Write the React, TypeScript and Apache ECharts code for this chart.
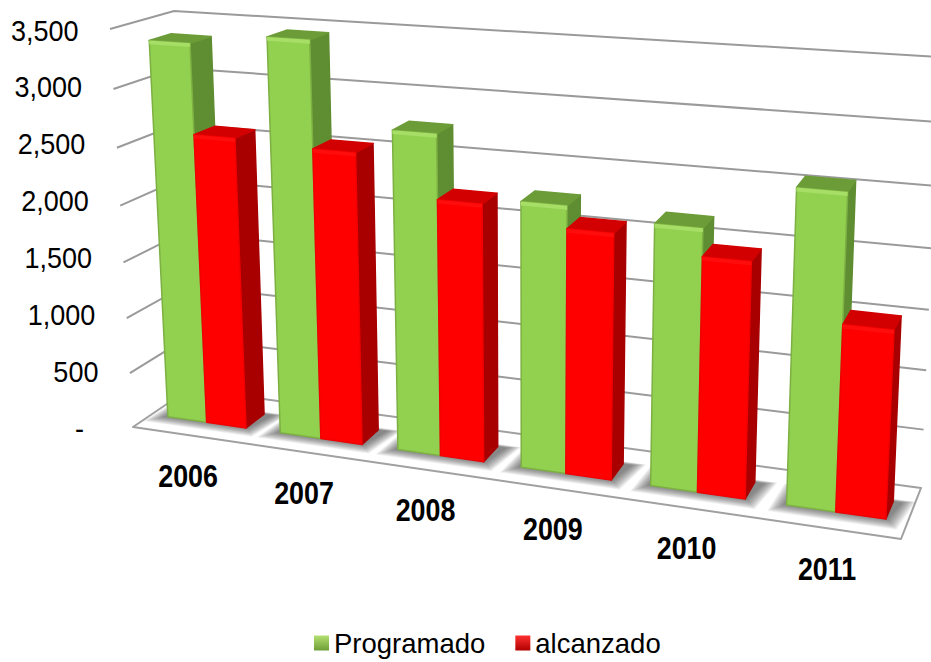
import React, { useEffect, useRef } from "react";
import * as echarts from "echarts";

const categories = ["2006", "2007", "2008", "2009", "2010", "2011"];
const programado = [3363, 3458, 2766, 2270, 2191, 2578];
const alcanzado = [2587, 2553, 2221, 2082, 1964, 1538];
const ticks = [0, 500, 1000, 1500, 2000, 2500, 3000, 3500];
const tickLabels = ["-", "500", "1,000", "1,500", "2,000", "2,500", "3,000", "3,500"];
const FONT = '"Liberation Sans", Arial, sans-serif';

type P = [number, number];
// Picture-plane corners of the 3D box: [s, v, w] -> pixel
const FL: P = [133, 427], FR: P = [901, 539], BL: P = [189, 389], BR: P = [921, 488];
const FTL: P = [110, 29], FTR: P = [922, 84], BTL: P = [174, 11], BTR: P = [940, 57];
const lerp = (a: P, b: P, t: number): P => [a[0] + (b[0] - a[0]) * t, a[1] + (b[1] - a[1]) * t];
const KV = 0.94;
const warpV = (v: number) => (KV * v) / (1 + (KV - 1) * v);
const project = (s: number, v: number, w: number): P => {
  const bottom = lerp(lerp(FL, FR, s), lerp(BL, BR, s), w);
  const top = lerp(lerp(FTL, FTR, s), lerp(BTL, BTR, s), w);
  return lerp(bottom, top, warpV(v));
};
const K = 0.866;
const warp = (u: number) => (K * u) / (1 + (K - 1) * u);
const W0 = 0.33, W1 = 0.68;
const HALF = 0.35;

const wallItem = (params: any, api: any) => {
  const sys = params.coordSys;
  const value = api.value(1);
  const y = api.coord([0, value])[1];
  const v = (sys.y + sys.height - y) / sys.height;
  const idx = params.dataIndex;
  const line = { stroke: "#9a9a9a", lineWidth: 2, fill: "none" };
  const children: any[] = [];
  if (value === 0) {
    children.push({
      type: "polygon",
      shape: { points: [project(0, 0, 0), project(1, 0, 0), project(1, 0, 1), project(0, 0, 1)] },
      style: { fill: "#ffffff", stroke: "#a0a0a0", lineWidth: 2, lineJoin: "round" },
    });
  } else {
    children.push({
      type: "polyline",
      shape: { points: [project(0, v, 0), project(0, v, 1), project(1, v, 1)] },
      style: line,
    });
  }
  const label = tickLabels[idx];
  const front = project(0, v, 0);
  children.push({
    type: "text",
    x: front[0] - (label === "-" ? 49 : 31.5),
    y: y,
    scaleX: 0.9,
    style: {
      text: label,
      x: 0,
      y: 0,
      align: "right",
      verticalAlign: "middle",
      fontFamily: FONT,
      fontSize: 30,
      fill: "#000000",
    },
  });
  return { type: "group", children };
};

const shadowItem = (params: any, api: any) => {
  const sys = params.coordSys;
  const band = api.size([1, 0])[0];
  const cx = api.coord([api.value(0), 0])[0];
  const s0 = warp((cx - band * HALF - sys.x) / sys.width);
  const s1 = warp((cx + band * HALF - sys.x) / sys.width);
  const children: any[] = [];
  for (let i = 14; i >= 0; i--) {
    const e = i * 0.0012;
    const d = i * 0.0035;
    const df = i * 0.012;
    children.push({
      type: "polygon",
      shape: {
        points: [
          project(s0 - e - 0.003, 0, W0 - df),
          project(s1 + e + 0.002, 0, W0 - df),
          project(s1 + e + 0.012, 0, W1 + d),
          project(s0 - e, 0, W1 + d),
        ],
      },
      style: { fill: "rgba(60,60,60,0.055)" },
    });
  }
  return { type: "group", children };
};

const barItem = (colors: any, side: number) => (params: any, api: any) => {
  const sys = params.coordSys;
  const band = api.size([1, 0])[0];
  const [cx, y] = api.coord([api.value(0), api.value(1)]);
  const v = (sys.y + sys.height - y) / sys.height;
  const a = side < 0 ? cx - band * HALF : cx;
  const b = side < 0 ? cx : cx + band * HALF;
  const s0 = warp((a - sys.x) / sys.width);
  const s1 = warp((b - sys.x) / sys.width);
  const face = (points: P[], fill: string, stroke = fill) => ({
    type: "polygon",
    shape: { points },
    style: { fill, stroke, lineWidth: 1.5, lineJoin: "round" },
  });
  const f00 = project(s0, 0, W0), f10 = project(s1, 0, W0);
  const f01 = project(s0, v, W0), f11 = project(s1, v, W0);
  const b10 = project(s1, 0, W1), b11 = project(s1, v, W1), b01 = project(s0, v, W1);
  const dv = 0.009;
  return {
    type: "group",
    children: [
      face([f10, b10, b11, f11], colors.side),
      face([f01, f11, b11, b01], colors.top),
      face([f00, f10, f11, f01], colors.front, colors.edge),
      {
        type: "polygon",
        shape: { points: [f01, f11, project(s1, v - dv, W0), project(s0, v - dv, W0)] },
        style: { fill: colors.light },
      },
    ],
  };
};

const green = { front: "#92D050", side: "#5F8D32", top: "#6C9C38", edge: "#7DB043", light: "#A6DE66" };
const red = { front: "#FF0000", side: "#A80000", top: "#D20000", edge: "#F00000", light: "#FF0C0C" };

export default function App() {
  const ref = useRef<HTMLDivElement>(null);
  useEffect(() => {
    const chart = echarts.init(ref.current!, undefined, { renderer: "svg" });
    const legendFill = (a: string, b: string) =>
      new echarts.graphic.LinearGradient(0, 0, 0, 1, [
        { offset: 0, color: a },
        { offset: 1, color: b },
      ]);
    chart.setOption({
      animation: false,
      backgroundColor: "#ffffff",
      grid: { left: 110, top: 30, width: 800, height: 398, containLabel: false },
      xAxis: { type: "category", data: categories, show: false },
      yAxis: { type: "value", min: 0, max: 3500, interval: 500, show: false },
      legend: {
        left: 314,
        top: 629,
        padding: 0,
        itemWidth: 15,
        itemHeight: 15,
        itemGap: 30,
        textStyle: { fontFamily: FONT, fontSize: 27.5, color: "#000000" },
        data: [
          { name: "Programado", icon: "rect", itemStyle: { color: legendFill("#B4E070", "#6E9E38") } },
          { name: "alcanzado", icon: "rect", itemStyle: { color: legendFill("#FF3030", "#B00000") } },
        ],
      },
      series: [
        {
          type: "custom",
          silent: true,
          renderItem: wallItem,
          data: ticks.map((t) => [0, t]),
          encode: { x: 0, y: 1 },
        },
        {
          type: "custom",
          silent: true,
          renderItem: shadowItem,
          data: categories.map((_, i) => [i, 0]),
          encode: { x: 0, y: 1 },
        },
        {
          type: "custom",
          name: "Programado",
          renderItem: barItem(green, -1),
          itemStyle: { color: "#92D050" },
          data: programado.map((v, i) => [i, v]),
          encode: { x: 0, y: 1 },
        },
        {
          type: "custom",
          name: "alcanzado",
          renderItem: barItem(red, 1),
          itemStyle: { color: "#FF0000" },
          data: alcanzado.map((v, i) => [i, v]),
          encode: { x: 0, y: 1 },
        },
        {
          type: "custom",
          silent: true,
          renderItem: (params: any, api: any) => {
            const sys = params.coordSys;
            const cx = api.coord([api.value(0), 0])[0];
            const p = project(warp((cx - sys.x) / sys.width), 0, 0);
            return {
              type: "text",
              x: p[0] - 1,
              y: p[1] + 41,
              scaleX: 0.88,
              style: {
                text: categories[params.dataIndex],
                x: 0,
                y: 0,
                align: "center",
                verticalAlign: "middle",
                fontFamily: FONT,
                fontSize: 30.5,
                fontWeight: "bold",
                fill: "#000000",
              },
            };
          },
          data: categories.map((_, i) => [i, 0]),
          encode: { x: 0, y: 1 },
        },
      ],
    });
    return () => chart.dispose();
  }, []);
  return (
    <div
      ref={ref}
      style={{ width: 931, height: 662, position: "absolute", left: 0, top: 0 }}
    />
  );
}
